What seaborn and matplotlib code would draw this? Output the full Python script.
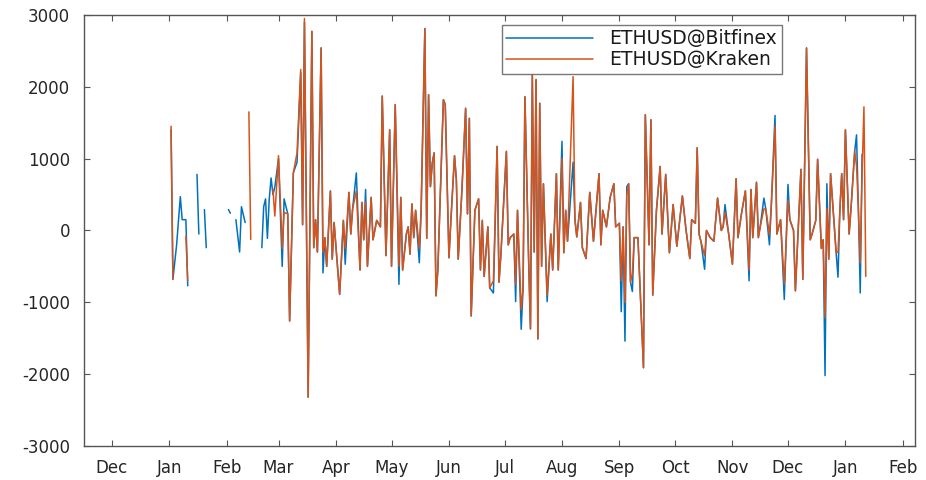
import numpy as np
import pandas as pd
import matplotlib
matplotlib.use("Agg")
import matplotlib.pyplot as plt
import matplotlib.dates as mdates
import seaborn as sns

nan = np.nan
# day offsets counted from 2016-12-01
days = [32, 33, 35, 37, 38, 40, 41, 43, 46, 47,
        48, 50, 51, 52, 63, 64, 65, 67, 69, 70,
        72, 73, 74, 75, 76, 81, 82, 83, 84, 85,
        86, 87, 88, 90, 92, 93, 95, 96,
        98, 100, 102, 103, 104, 106, 108, 109, 110, 111,
        113, 114, 115, 116, 118, 119, 120, 123, 125, 126,
        128, 129, 130, 132, 134, 135, 136, 137, 138, 140,
        141, 143, 145, 146, 148, 150, 151, 153, 155, 156,
        157, 159, 160, 161, 162, 163, 164, 166, 167, 169,
        170, 171, 172, 173, 174, 175, 176, 179, 180, 182,
        183, 185, 186, 187, 189, 191, 192, 193, 194, 196,
        198, 199, 200, 201, 203, 204, 206, 208, 209, 210,
        213, 214, 215, 217, 218, 219, 221, 222, 223, 225,
        226, 227, 228, 229, 230, 231, 232, 233, 234, 235, 237,
        238, 240, 241, 243, 244, 245, 246, 249, 250, 251,
        253, 254, 256, 258, 260, 263, 264, 265, 267, 269,
        271, 272, 274, 275, 276, 277, 278, 279, 280, 281,
        282, 284, 287, 288, 290, 291, 292,
        294, 296, 297, 299, 301, 303, 305, 308, 310, 312,
        313, 315, 316, 317, 318, 320, 321, 323, 325, 327,
        329, 330, 331, 333, 335, 337, 338, 340, 342, 344,
        345, 346, 348, 349, 350, 352, 353, 355, 356, 358,
        359, 361, 363, 365, 366, 368, 369,
        372, 373, 375, 377, 378, 380, 381, 383, 384, 385,
        386, 387, 388, 390, 391, 392, 393, 394, 395, 396,
        398, 399, 401, 402, 403, 404, 405, 406, 407]

bitfinex = [1400, -680, -200, 470, 150, 150, -770, nan, 780, -50,
            nan, 290, -240, nan, 290, 240, nan, 150, -300, 330,
            110, nan, nan, nan, nan, -240, 330, 440, -110, 440,
            730, 500, 600, 1000, -500, 440, 230, -1260,
            800, 950, 2200, 80, 2900, -2320, 2770, -240, 150, -300,
            2540, -590, -100, -500, 550, -400, 110, -890, 140, -470,
            530, -50, 300, 800, -550, 390, -130, 570, -500, 460,
            -130, 140, 50, 1870, -350, 1400, -500, 1750, -750, 460,
            -550, -50, 50, -330, 370, -100, 280, -450, 300, 2810,
            -110, 1890, 610, 940, 1080, -910, -550, 1820, 1750, -380,
            120, 1040, 700, -400, 560, 1700, 230, 1560, -1190, 280,
            440, -550, 140, -640, 50, -800, -870, 1170, -720, -350,
            1100, -200, -100, -50, -990, 280, -1375, -800, 1860, -400,
            -1370, 2160, -300, 2100, -1510, 1770, -500, 650, -150, -990, -50,
            -550, 790, -550, 1240, -310, 280, -150, 950, 150, -90,
            390, -240, -390, 530, -150, 790, -200, 280, 50, 460,
            650, 50, 100, -1130, 50, -1540, 610, 650, -720, -850,
            -100, -100, -1910, 1610, -200, 1540, -900,
            280, 890, -50, 780, -310, 360, -220, 480, 0, -390,
            150, 100, 1150, -50, -150, -540, 0, -100, -150, 450,
            0, 50, 360, -50, -470, 720, -100, 250, 550, -700,
            570, -100, 670, -100, 50, 450, 300, -200, 350, 1600,
            -50, 150, -960, 640, 150, 0, -840,
            850, -680, 2540, -130, -50, 140, 990, -250, -130, -2020,
            650, -400, 790, 50, -310, -650, 280, 790, 150, 1400,
            -50, 300, 1100, 1330, 300, -870, 1060, nan, nan]

kraken = [1450, -680, nan, nan, nan, -80, -700, nan, nan, nan,
          nan, nan, nan, nan, nan, nan, nan, nan, nan, nan,
          nan, nan, 1650, -125, nan, nan, nan, nan, nan, nan,
          nan, 570, 200, 1040, -250, 250, 230, -1260,
          800, 1080, 2240, 80, 2950, -2320, 2770, -240, 150, -300,
          2540, -300, -100, -500, 550, -400, 110, -890, 140, -250,
          530, -50, 300, 550, -550, 390, -130, 400, -500, 460,
          -130, 140, 50, 1870, -350, 1400, -500, 1750, -500, 460,
          -550, -50, 50, -330, 370, -100, 280, -250, 300, 2810,
          -110, 1890, 610, 940, 1080, -910, -550, 1820, 1750, -380,
          120, 1040, 700, -400, 560, 1700, 230, 1560, -1190, 280,
          440, -550, 140, -640, 50, -800, -700, 1170, -720, -350,
          1100, -200, -100, -50, -750, 280, -1100, -800, 1860, -400,
          -1370, 2160, -300, 2100, -1510, 1770, -500, 650, -150, -900, -50,
          -550, 790, -550, 1000, -310, 280, -150, 2140, 150, -90,
          390, -240, -390, 530, -150, 790, -200, 280, 50, 460,
          650, 50, 100, -700, 50, -1000, 500, 650, -720, -600,
          -100, -100, -1910, 1610, -200, 1540, -900,
          280, 890, -50, 780, -310, 360, -220, 480, 0, -390,
          150, 100, 1150, -50, -150, -350, 0, -100, -150, 450,
          0, 50, 250, -50, -470, 720, -100, 250, 550, -550,
          570, -100, 670, -100, 50, 300, 300, -60, 350, 1450,
          -50, 150, -750, 420, 150, 0, -840,
          850, -680, 2540, -130, -50, 140, 990, -250, -130, -1210,
          300, -400, 790, 50, -310, -300, 280, 790, 150, 1400,
          -50, 300, 1100, 900, 300, -450, 800, 1720, -640]

series_names = ["ETHUSD@Bitfinex", "ETHUSD@Kraken"]
colors = ["#0072BD", "#D95319"]
y_ticks = [-3000, -2000, -1000, 0, 1000, 2000, 3000]

assert len(days) == len(bitfinex) == len(kraken), (len(days), len(bitfinex), len(kraken))

start = pd.Timestamp("2016-12-01")
dates = start + pd.to_timedelta(days, unit="D")

sns.set_theme(style="white")
plt.rcParams["font.family"] = ["DejaVu Sans"]

fig = plt.figure(figsize=(9.26, 4.8), dpi=100)
ax = fig.add_axes([0.0907, 0.0708, 0.8973, 0.8982])

for name, vals, col in zip(series_names, [bitfinex, kraken], colors):
    v = np.array(vals, dtype=float)
    seg = np.cumsum(np.isnan(v))
    df = pd.DataFrame({"date": dates, "value": v, "seg": seg}).dropna()
    sns.lineplot(data=df, x="date", y="value", units="seg", estimator=None,
                 color=col, linewidth=1.1, ax=ax, label=name)

ax.set_xlim(pd.Timestamp("2016-11-16"), pd.Timestamp("2018-02-07 12:00"))
ax.set_ylim(-3000, 3000)
ax.set_yticks(y_ticks)
ax.set_yticklabels([str(t) for t in y_ticks])
ax.xaxis.set_major_locator(mdates.MonthLocator())
ax.xaxis.set_major_formatter(mdates.DateFormatter("%b"))
ax.set_xlabel("")
ax.set_ylabel("")

for sp in ax.spines.values():
    sp.set_visible(True)
    sp.set_color("#555555")
    sp.set_linewidth(1.0)
ax.tick_params(axis="both", which="major", direction="in", length=4, width=0.8,
               color="#555555", labelsize=12, labelcolor="#262626",
               top=True, right=True, bottom=True, left=True)
ax.tick_params(axis="x", pad=9)
ax.tick_params(axis="y", pad=10)

h, l = ax.get_legend_handles_labels()
uniq = {}
for hh, ll in zip(h, l):
    if ll not in uniq:
        uniq[ll] = hh
leg = ax.legend(list(uniq.values()), list(uniq.keys()), loc="upper right",
                bbox_to_anchor=(0.84, 0.977), fontsize=13.5, handlelength=4.6,
                frameon=True, fancybox=False, borderpad=0.25, labelspacing=0.1,
                handletextpad=0.9, borderaxespad=0)
leg.get_frame().set_edgecolor("#555555")
leg.get_frame().set_linewidth(1.0)
for t in leg.get_texts():
    t.set_color("#1a1a1a")

fig.savefig("out.png", dpi=100, facecolor="white")
